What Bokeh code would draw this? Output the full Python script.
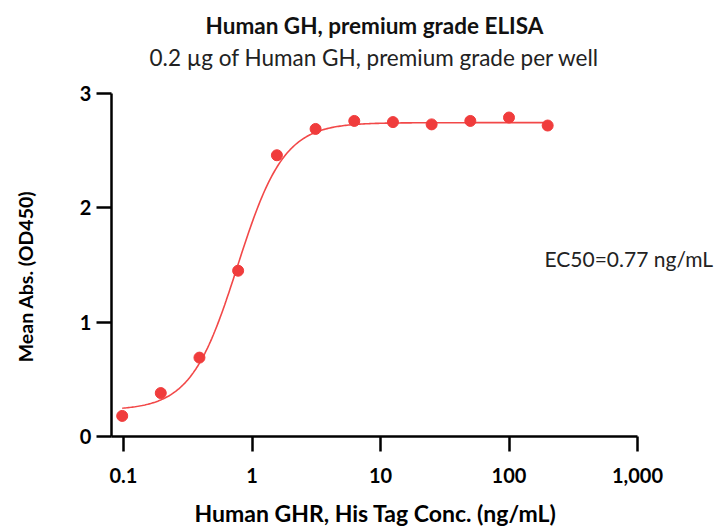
import numpy as np
from bokeh.plotting import figure
from bokeh.models import Label, FixedTicker, CustomJSTickFormatter, Range1d
from bokeh.embed import file_html
from bokeh.resources import INLINE

# data
conc = [0.0977, 0.195, 0.39, 0.78, 1.5625, 3.125, 6.25, 12.5, 25, 50, 100, 200]
od450 = [0.18, 0.38, 0.69, 1.45, 2.46, 2.69, 2.76, 2.75, 2.73, 2.76, 2.79, 2.72]
# 4PL fit parameters
fit_bottom = 0.23
fit_top = 2.745
fit_ec50 = 0.77
fit_hill = 2.4
x_ticks = [0.1, 1, 10, 100, 1000]
x_tick_labels = ["0.1", "1", "10", "100", "1,000"]
y_ticks = [0, 1, 2, 3]
x_axis_min = 0.0806
x_axis_max = 1000
y_axis_min = 0
y_axis_max = 3

title = "Human GH, premium grade ELISA"
subtitle = "0.2 µg of Human GH, premium grade per well"
x_label = "Human GHR, His Tag Conc. (ng/mL)"
y_label = "Mean Abs. (OD450)"
ec50_note = "EC50=0.77 ng/mL"

RED = "#f03c3c"
CURVE = "#f24848"
FONT = "Lato"

xc = np.logspace(np.log10(conc[0]), np.log10(conc[-1]), 300)
yc = fit_bottom + (fit_top - fit_bottom) / (1 + (fit_ec50 / xc) ** fit_hill)

# the frame covers the whole canvas; axes sit at fixed data locations
W, H = 716, 528
px_dec = 128.5          # pixels per decade on x
px_unit = 114.33        # pixels per unit on y
x0_px, y0_px = 123, 436  # page position of x=0.1 and y=0
lx0 = np.log10(x_ticks[0])
x_lo = 10 ** (lx0 - x0_px / px_dec)
x_hi = 10 ** (lx0 + (W - x0_px) / px_dec)
y_lo = -(H - y0_px) / px_unit
y_hi = y0_px / px_unit

def xd(px):
    return 10 ** (lx0 + (px - x0_px) / px_dec)

def yd(py):
    return (y0_px - py) / px_unit

p = figure(width=W, height=H, x_axis_type="log",
           x_range=Range1d(x_lo, x_hi), y_range=Range1d(y_lo, y_hi),
           output_backend="svg", toolbar_location=None,
           min_border_left=0, min_border_right=0,
           min_border_top=0, min_border_bottom=0)
p.outline_line_color = None
p.grid.visible = False
p.background_fill_color = "white"
p.border_fill_color = "white"

p.line(xc, yc, line_color=CURVE, line_width=1.6)
p.scatter(conc, od450, size=11, fill_color=RED, line_color=RED)

for ax in (p.xaxis[0], p.yaxis[0]):
    ax.axis_line_width = 2.5
    ax.axis_line_color = "black"
    ax.major_tick_line_width = 2.5
    ax.major_tick_line_color = "black"
    ax.major_tick_out = 15
    ax.major_tick_in = 0
    ax.minor_tick_line_color = None
    ax.major_label_text_font = FONT
    ax.major_label_text_font_style = "bold"
    ax.major_label_text_font_size = "20px"
    ax.major_label_text_color = "black"
    ax.axis_label = None

p.xaxis.fixed_location = y_axis_min
p.xaxis.bounds = (x_axis_min, x_axis_max)
p.xaxis.ticker = FixedTicker(ticks=x_ticks)
p.xaxis.formatter = CustomJSTickFormatter(
    args=dict(tks=x_ticks, lbls=x_tick_labels),
    code="""
const i = tks.findIndex(t => Math.abs(Math.log10(t) - Math.log10(tick)) < 1e-6);
return i >= 0 ? lbls[i] : "";
""")
p.xaxis.major_label_standoff = 16

p.yaxis.fixed_location = x_axis_min
p.yaxis.bounds = (y_axis_min, y_axis_max)
p.yaxis.ticker = FixedTicker(ticks=y_ticks)
p.yaxis.major_label_standoff = 5

# texts
p.add_layout(Label(x=xd(374), y=yd(25), text=title, text_font=FONT,
                   text_font_size="22.5px", text_font_style="bold", text_color="#111111",
                   text_align="center", text_baseline="middle"))
p.add_layout(Label(x=xd(374), y=yd(57), text=subtitle, text_font=FONT,
                   text_font_size="22.5px", text_color="#222222",
                   text_align="center", text_baseline="middle"))
p.add_layout(Label(x=xd(375), y=yd(512), text=x_label, text_font=FONT,
                   text_font_size="23px", text_font_style="bold", text_color="black",
                   text_align="center", text_baseline="middle"))
p.add_layout(Label(x=xd(25), y=yd(276), text=y_label, text_font=FONT,
                   text_font_size="19.5px", text_font_style="bold", text_color="black",
                   text_align="center", text_baseline="middle", angle=np.pi / 2))
p.add_layout(Label(x=xd(544), y=yd(258), text=ec50_note, text_font=FONT,
                   text_font_size="21px", text_color="#222222",
                   text_baseline="middle"))

open("out.html", "w").write(file_html(p, INLINE))
